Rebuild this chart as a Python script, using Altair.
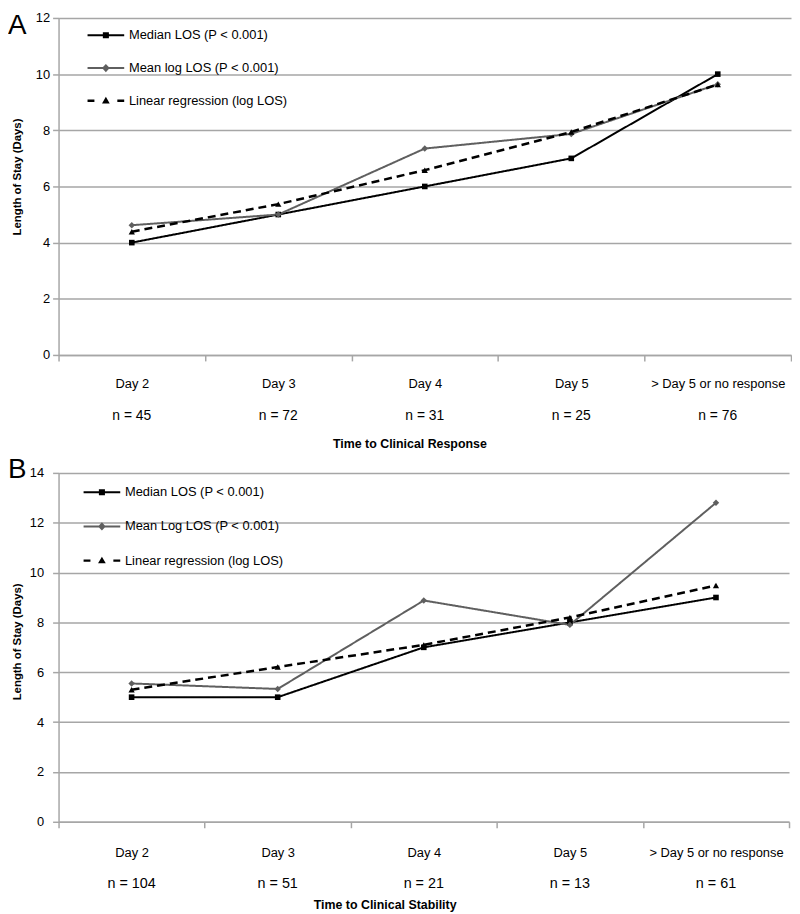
import json
import altair as alt
import pandas as pd

# ---------------- data ----------------
categories = ["Day 2", "Day 3", "Day 4", "Day 5", "> Day 5 or no response"]

a_series = ["Median LOS (P < 0.001)", "Mean log LOS (P < 0.001)", "Linear regression (log LOS)"]
a_median = [4.0, 5.0, 6.0, 7.0, 10.0]
a_mean_log = [4.62, 5.0, 7.35, 7.87, 9.64]
a_regression = [4.39, 5.37, 6.58, 7.94, 9.63]
a_counts = ["n = 45", "n = 72", "n = 31", "n = 25", "n = 76"]
a_xtitle = "Time to Clinical Response"

b_series = ["Median LOS (P < 0.001)", "Mean Log LOS (P < 0.001)", "Linear regression (log LOS)"]
b_median = [5.0, 5.0, 7.0, 8.0, 9.0]
b_mean_log = [5.55, 5.33, 8.88, 7.9, 12.8]
b_regression = [5.3, 6.21, 7.1, 8.2, 9.48]
b_counts = ["n = 104", "n = 51", "n = 21", "n = 13", "n = 61"]
b_xtitle = "Time to Clinical Stability"

panel_letters = ["A", "B"]
y_title = "Length of Stay (Days)"

# ---------------- styles ----------------
FONT = "Liberation Sans, Arial, sans-serif"
GRID = "#a6a6a6"
GRAY_LINE = "#5f5f5f"
line_colors = ["#000000", GRAY_LINE, "#000000"]
line_widths = [2, 2, 2.5]
line_dashes = [[1, 0], [1, 0], [8, 5]]
marker_shapes = ["square", "diamond", "triangle-up"]
marker_sizes = [32, 42, 40]

legend_paths = [
    "M-1,-0.11H3V0.11H-1Z M0.67,-0.33H1.33V0.33H0.67Z",
    "M-1,-0.11H3V0.11H-1Z M1,-0.45L1.42,0L1,0.45L0.58,0Z",
    "M-1,-0.13H-0.25V0.13H-1Z M2.25,-0.13H3V0.13H2.25Z M1,-0.42L1.42,0.3H0.58Z",
]


def make_panel(series, values, counts, xtitle, ymax, letter, width, height, cfg):
    rows = []
    for s, vals in zip(series, values):
        for c, v in zip(categories, vals):
            rows.append({"cat": c, "series": s, "value": v})
    df = pd.DataFrame(rows)

    xscale = alt.Scale(type="band", paddingInner=0, paddingOuter=0)
    yscale = alt.Scale(domain=[0, ymax], nice=False, zero=True)
    y_axis = alt.Axis(
        values=list(range(0, ymax + 1, 2)),
        title=y_title,
        titleFont=FONT,
        titleFontSize=11.5,
        titleFontWeight="bold",
        titleColor="#000000",
        titleX=cfg["ytitle_x"],
        titleY=cfg["ytitle_y"],
        titleAlign="center",
        titleBaseline="middle",
        titleAngle=270,
        labelFont=FONT,
        labelFontSize=13,
        labelColor="#000000",
        labelPadding=cfg["ylabel_pad"],
        tickSize=6,
        tickColor=GRID,
        tickWidth=1.5,
        domainColor=GRID,
        domainWidth=1.5,
        gridColor=GRID,
        gridWidth=1.5,
        grid=True,
    )
    Y = alt.Y("value:Q", scale=yscale, axis=y_axis)

    day_axis = alt.Axis(
        orient="bottom",
        title=None,
        labelFont=FONT,
        labelFontSize=13,
        labelColor="#000000",
        labelAngle=0,
        labelPadding=cfg["day_pad"],
        tickBand="extent",
        tickSize=6,
        tickColor=GRID,
        tickWidth=1.5,
        domainColor=GRID,
        domainWidth=1.5,
        grid=False,
    )
    count_expr = "%s[indexof(%s, datum.label)]" % (json.dumps(counts), json.dumps(categories))
    n_axis = alt.Axis(
        orient="bottom",
        title=xtitle,
        titleFont=FONT,
        titleFontSize=12.5,
        titleFontWeight="bold",
        titleColor="#000000",
        titleX=cfg["xtitle_x"],
        titleY=cfg["xtitle_y"],
        titleAlign="center",
        titleBaseline="middle",
        labelExpr=count_expr,
        labelFont=FONT,
        labelFontSize=cfg["n_font"],
        labelColor="#000000",
        labelAngle=0,
        labelPadding=cfg["n_pad"],
        ticks=False,
        tickSize=0,
        domain=False,
        grid=False,
    )

    def X(axis):
        return alt.X("cat:N", sort=categories, scale=xscale, axis=axis)

    layers = []
    for i, s in enumerate(series):
        layers.append(
            alt.Chart(df)
            .transform_filter(alt.datum.series == s)
            .mark_line(color=line_colors[i], strokeWidth=line_widths[i], strokeDash=line_dashes[i])
            .encode(x=X(day_axis if i == 0 else None), y=Y)
        )
    for i, s in enumerate(series):
        layers.append(
            alt.Chart(df)
            .transform_filter(alt.datum.series == s)
            .mark_point(shape=marker_shapes[i], size=marker_sizes[i], filled=True,
                        color=line_colors[i], opacity=1)
            .encode(x=X(n_axis if i == 0 else None), y=Y)
        )

    legend = alt.Legend(
        title=None,
        orient="none",
        legendX=cfg["leg_x"],
        legendY=cfg["leg_y"],
        symbolSize=342,
        symbolOpacity=1,
        symbolStrokeWidth=0,
        labelFont=FONT,
        labelFontSize=13,
        labelColor="#000000",
        labelOffset=23,
        rowPadding=cfg["leg_row"],
        labelLimit=400,
    )
    layers.append(
        alt.Chart(df)
        .mark_point(filled=True, opacity=0)
        .encode(
            x=X(None),
            y=Y,
            color=alt.Color("series:N", sort=series,
                            scale=alt.Scale(domain=series, range=line_colors), legend=legend),
            shape=alt.Shape("series:N", sort=series,
                            scale=alt.Scale(domain=series, range=legend_paths), legend=legend),
        )
    )
    letter_df = pd.DataFrame({"letter": [letter]})
    layers.append(
        alt.Chart(letter_df)
        .mark_text(align="left", baseline="top", fontSize=28, font="Liberation Sans, Arial", color="#000000")
        .encode(x=alt.value(cfg["letter_x"]), y=alt.value(cfg["letter_y"]), text="letter:N")
    )

    return (
        alt.layer(*layers)
        .resolve_axis(x="independent")
        .properties(width=width, height=height)
    )


cfg_a = dict(ytitle_x=-41, ytitle_y=160, ylabel_pad=3, day_pad=17, n_pad=54, n_font=14,
             xtitle_x=354, xtitle_y=89, leg_x=29, leg_y=8, leg_row=16,
             letter_x=-51, letter_y=-6)
cfg_b = dict(ytitle_x=-41, ytitle_y=170, ylabel_pad=9, day_pad=19, n_pad=55, n_font=14.5,
             xtitle_x=329, xtitle_y=83, leg_x=25, leg_y=10, leg_row=17.5,
             letter_x=-51, letter_y=-17)

panel_a = make_panel(a_series, [a_median, a_mean_log, a_regression], a_counts, a_xtitle,
                     12, panel_letters[0], 739, 340, cfg_a)
panel_b = make_panel(b_series, [b_median, b_mean_log, b_regression], b_counts, b_xtitle,
                     14, panel_letters[1], 737, 352, cfg_b)

chart = (
    alt.vconcat(panel_a, panel_b, spacing=6)
    .resolve_scale(x="independent", y="independent", color="independent", shape="independent")
    .resolve_legend(color="independent", shape="independent")
    .properties(padding=0, background="#ffffff")
    .configure_view(stroke=None)
)

chart.save("out.html", embed_options={"renderer": "svg", "actions": False})
